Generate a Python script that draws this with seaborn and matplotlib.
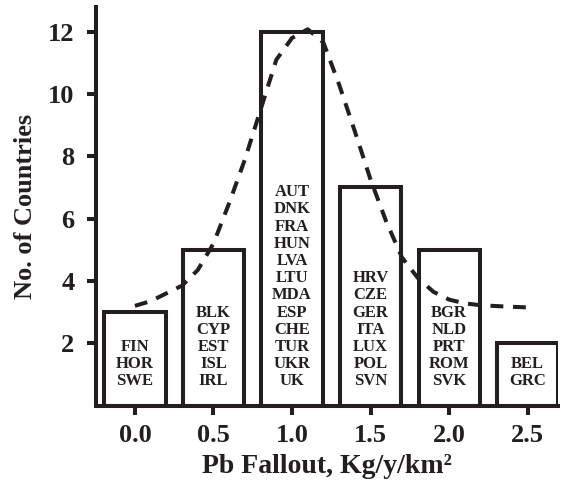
import matplotlib
matplotlib.use("Agg")
import matplotlib.pyplot as plt
import seaborn as sns
import numpy as np
import pandas as pd

# ---- data ----
fallout = [0.0, 0.5, 1.0, 1.5, 2.0, 2.5]
counts = [3, 5, 12, 7, 5, 2]
countries = [
    ["FIN", "HOR", "SWE"],
    ["BLK", "CYP", "EST", "ISL", "IRL"],
    ["AUT", "DNK", "FRA", "HUN", "LVA", "LTU", "MDA", "ESP", "CHE", "TUR", "UKR", "UK"],
    ["HRV", "CZE", "GER", "ITA", "LUX", "POL", "SVN"],
    ["BGR", "NLD", "PRT", "ROM", "SVK"],
    ["BEL", "GRC"],
]
curve_x = [0.0, 0.1, 0.2, 0.3, 0.4, 0.5, 0.6, 0.7, 0.8, 0.9, 1.0, 1.1, 1.2,
           1.3, 1.4, 1.5, 1.6, 1.7, 1.8, 1.9, 2.0, 2.1, 2.2, 2.35, 2.5]
curve_y = [3.2, 3.35, 3.6, 3.85, 4.35, 5.2, 6.5, 7.9, 9.5, 11.1, 11.8, 12.08, 11.65,
           10.3, 8.8, 7.25, 5.9, 4.75, 4.1, 3.65, 3.4, 3.28, 3.22, 3.18, 3.15]
yticks = [2, 4, 6, 8, 10, 12]
xticks = [0.0, 0.5, 1.0, 1.5, 2.0, 2.5]

INK = "#231f20"

sns.set_style("ticks")
plt.rcParams["font.family"] = ["Liberation Serif", "DejaVu Serif"]
plt.rcParams["font.weight"] = "bold"
plt.rcParams["text.color"] = INK
plt.rcParams["xtick.color"] = INK
plt.rcParams["ytick.color"] = INK
plt.rcParams["axes.edgecolor"] = INK
plt.rcParams["axes.labelcolor"] = INK

fig = plt.figure(figsize=(5.61, 4.88), dpi=100)
ax = fig.add_axes([0.171, 0.169, 0.824, 0.817])

df = pd.DataFrame({"x": fallout, "y": counts})
sns.barplot(data=df, x="x", y="y", native_scale=True, width=0.78,
            color="white", edgecolor=INK, linewidth=2.9, ax=ax, zorder=2)

cdf = pd.DataFrame({"x": curve_x, "y": curve_y})
sns.lineplot(data=cdf, x="x", y="y", sort=False, estimator=None, ax=ax,
             color=INK, linewidth=2.9, zorder=3)
ax.lines[-1].set_dashes((3.2, 2.4))

for xv, names in zip(fallout, countries):
    ax.text(xv, 0.52, "\n".join(names), ha="center", va="bottom",
            fontsize=12, fontweight="bold", linespacing=1.1, zorder=4)

ax.set_xlim(-0.248, 2.694)
ax.set_ylim(0, 12.8)
ax.set_xticks(xticks)
ax.set_xticklabels([f"{v:.1f}" for v in xticks])
ax.set_yticks(yticks)
ax.set_yticklabels([str(v) for v in yticks])

for s in ["top", "right"]:
    ax.spines[s].set_visible(False)
for s in ["left", "bottom"]:
    ax.spines[s].set_linewidth(2.9)
ax.tick_params(axis="both", direction="out", length=6.5, width=2.9,
               labelsize=19)
ax.tick_params(axis="y", pad=9)
ax.tick_params(axis="x", pad=7)
for lbl in ax.get_xticklabels() + ax.get_yticklabels():
    lbl.set_fontweight("bold")

ax.set_xlabel("Pb Fallout, Kg/y/km²", fontsize=20, fontweight="bold", labelpad=5)
ax.set_ylabel("No. of Countries", fontsize=19, fontweight="bold", labelpad=8)

fig.savefig("out.png", dpi=100)
